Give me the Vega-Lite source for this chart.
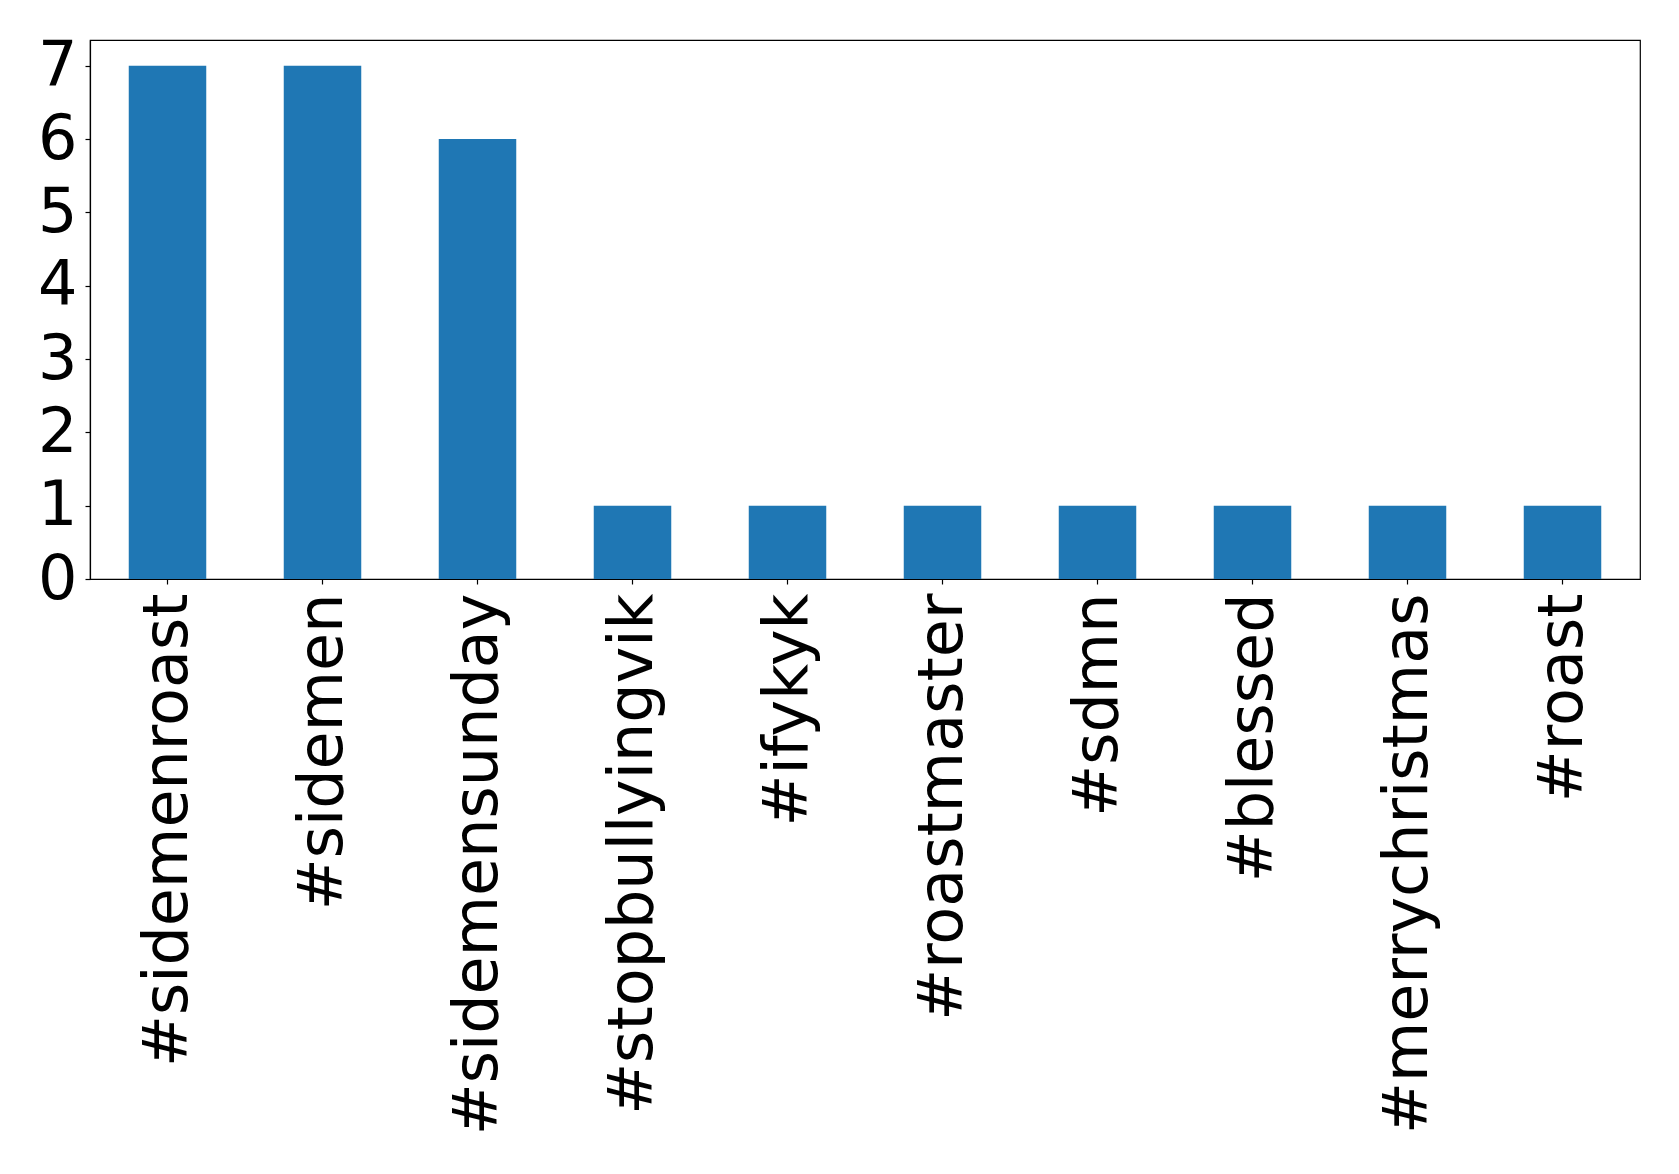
{
  "$schema": "https://vega.github.io/schema/vega-lite/v6.json",
  "autosize": {"type": "none"},
  "padding": {"left": 90, "top": 40, "right": 39, "bottom": 595},
  "width": 1550,
  "height": 539,
  "background": "white",
  "config": {
    "view": {"stroke": "black", "strokeWidth": 1.2},
    "axis": {
      "labelFont": "DejaVu Sans",
      "labelFontSize": 62,
      "labelColor": "black",
      "labelLimit": 2000,
      "domainColor": "black",
      "domainWidth": 1.2,
      "tickColor": "black",
      "tickWidth": 1.2,
      "tickSize": 5,
      "grid": false,
      "title": null,
      "labelOverlap": false,
      "labelFlush": false
    }
  },
  "data": {
    "values": [
      {"tag": "#sidemenroast", "count": 7},
      {"tag": "#sidemen", "count": 7},
      {"tag": "#sidemensunday", "count": 6},
      {"tag": "#stopbullyingvik", "count": 1},
      {"tag": "#ifykyk", "count": 1},
      {"tag": "#roastmaster", "count": 1},
      {"tag": "#sdmn", "count": 1},
      {"tag": "#blessed", "count": 1},
      {"tag": "#merrychristmas", "count": 1},
      {"tag": "#roast", "count": 1}
    ]
  },
  "mark": {"type": "bar", "color": "#1f77b4"},
  "encoding": {
    "x": {
      "field": "tag",
      "type": "nominal",
      "sort": null,
      "scale": {"paddingInner": 0.5, "paddingOuter": 0.25},
      "axis": {"labelAngle": -90, "labelAlign": "right", "labelBaseline": "middle", "labelPadding": 9}
    },
    "y": {
      "field": "count",
      "type": "quantitative",
      "scale": {"domain": [0, 7.35], "nice": false, "zero": true},
      "axis": {"values": [0, 1, 2, 3, 4, 5, 6, 7], "labelPadding": 8, "labelBaseline": "middle"}
    }
  }
}
